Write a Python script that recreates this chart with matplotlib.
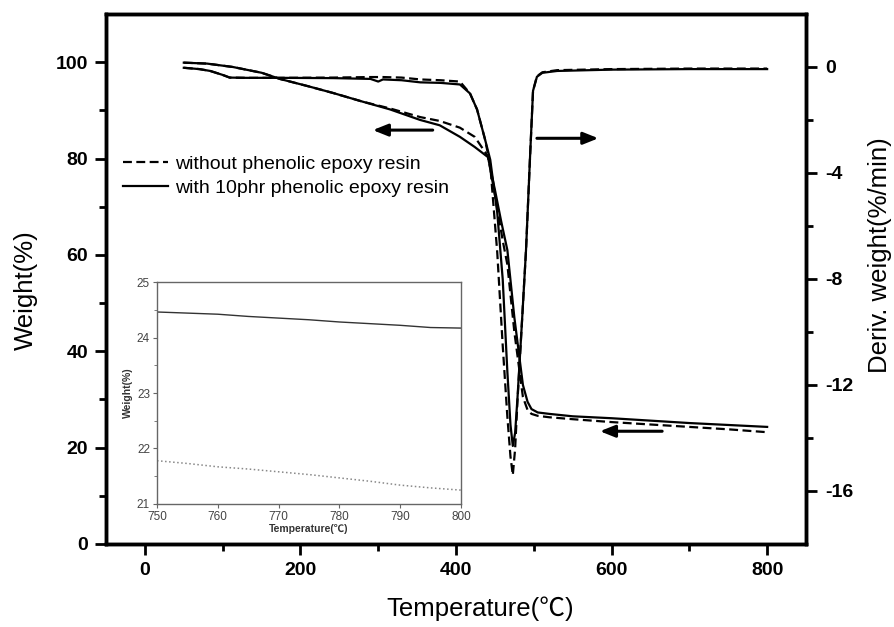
import matplotlib.pyplot as plt
from matplotlib.ticker import MultipleLocator, FixedLocator

plt.rcParams['font.family'] = ['Liberation Sans', 'Noto Sans CJK SC', 'DejaVu Sans']
plt.rcParams['axes.unicode_minus'] = False

# TG curves (left axis, weight %)
temp_tg_with = [50, 80, 113, 150, 174, 210, 242, 280, 315, 354, 379, 405, 424, 441,
                450, 458, 466, 475, 486, 492, 497, 505, 520, 550, 600, 650, 700, 750, 800]
weight_with = [99.9, 99.7, 99.0, 97.8, 96.5, 95.0, 93.6, 91.8, 90.2, 88.0, 86.9, 84.5, 82.4, 80.3,
               73.5, 67.0, 61.0, 47.0, 33.0, 29.5, 28.0, 27.3, 27.0, 26.5, 26.1, 25.6, 25.1, 24.7, 24.3]

temp_tg_without = [50, 80, 113, 150, 174, 210, 242, 280, 315, 354, 379, 405, 424, 441,
                   450, 460, 466, 475, 486, 492, 497, 505, 520, 550, 600, 650, 700, 750, 800]
weight_without = [99.9, 99.7, 99.0, 97.8, 96.5, 95.0, 93.6, 91.8, 90.4, 88.6, 87.8, 86.4, 84.5, 80.5,
                  72.5, 63.0, 58.0, 44.0, 30.5, 27.8, 27.0, 26.6, 26.3, 25.9, 25.3, 24.8, 24.3, 23.8, 23.2]

# DTG curves (right axis, %/min)
temp_dtg = [50, 70, 84, 100, 109, 130, 174, 242, 290, 300, 306, 330, 354, 380, 405, 418, 427,
            437, 444, 453, 460, 466, 470, 473, 476, 479, 485, 490, 495, 499, 504, 511, 530, 600, 700, 800]
dtg_with = [-0.03, -0.08, -0.15, -0.3, -0.4, -0.41, -0.41, -0.42, -0.45, -0.55, -0.47, -0.5, -0.58,
            -0.6, -0.66, -1.0, -1.6, -2.7, -3.5, -5.5, -8.0, -11.5, -13.5, -14.3, -13.8, -12.5, -9.5,
            -6.9, -3.5, -0.9, -0.37, -0.22, -0.15, -0.1, -0.08, -0.08]
dtg_without = [-0.03, -0.08, -0.15, -0.3, -0.4, -0.41, -0.41, -0.4, -0.38, -0.38, -0.38, -0.4, -0.47,
               -0.5, -0.55, -1.0, -1.6, -2.7, -3.7, -7.0, -10.5, -13.2, -14.7, -15.4, -14.4, -12.6, -9.5,
               -6.9, -3.5, -0.9, -0.35, -0.2, -0.12, -0.08, -0.06, -0.06]

# inset: residue between 750 and 800 C
temp_inset = [750, 755, 760, 765, 770, 775, 780, 785, 790, 795, 800]
inset_with = [24.46, 24.44, 24.42, 24.38, 24.35, 24.32, 24.28, 24.25, 24.22, 24.18, 24.17]
inset_without = [21.78, 21.73, 21.67, 21.63, 21.58, 21.53, 21.47, 21.41, 21.34, 21.29, 21.25]

label_with = 'with 10phr phenolic epoxy resin'
label_without = 'without phenolic epoxy resin'
dash = (0, (4, 2))

fig = plt.figure(figsize=(8.94, 6.27), dpi=100)
ax = fig.add_axes([0.1186, 0.1324, 0.783, 0.8453])
ax2 = ax.twinx()

ax.plot(temp_tg_with, weight_with, color='k', lw=1.6, label=label_with)
ax.plot(temp_tg_without, weight_without, color='k', ls=dash, lw=1.6, label=label_without)
ax2.plot(temp_dtg, dtg_with, color='k', lw=1.6)
ax2.plot(temp_dtg, dtg_without, color='k', ls=dash, lw=1.6)

ax.set_xlim(-50, 850)
ax.set_ylim(0, 110)
ax2.set_ylim(-18, 2)

ax.xaxis.set_major_locator(MultipleLocator(200))
ax.xaxis.set_minor_locator(MultipleLocator(100))
ax.yaxis.set_major_locator(MultipleLocator(20))
ax.yaxis.set_minor_locator(FixedLocator([10, 30, 50, 70, 90]))
ax2.yaxis.set_major_locator(MultipleLocator(4))
ax2.yaxis.set_minor_locator(FixedLocator([-2, -6, -10, -14]))

for a in (ax, ax2):
    for s in a.spines.values():
        s.set_linewidth(2.5)
ax.tick_params(which='major', direction='out', length=8, width=2, labelsize=14, pad=5)
ax.tick_params(which='minor', direction='out', length=5, width=2)
ax2.tick_params(which='major', direction='out', length=8, width=2, labelsize=14, pad=6)
ax2.tick_params(which='minor', direction='out', length=5, width=2)
for t in ax.get_xticklabels() + ax.get_yticklabels() + ax2.get_yticklabels():
    t.set_fontweight('bold')

ax.set_xlabel('Temperature(℃)', fontsize=18.5)
ax.xaxis.set_label_coords(0.534, -0.098)
ax.set_ylabel('Weight(%)', fontsize=18.5)
ax.yaxis.set_label_coords(-0.098, 0.479)
ax2.set_ylabel('Deriv. weight(%/min)', fontsize=18.5)
ax2.yaxis.set_label_coords(1.0886, 0.545)

# arrows pointing to the axis each curve belongs to
arrow = dict(arrowstyle='-|>,head_length=0.45,head_width=0.18', lw=2.2, color='k',
             mutation_scale=20, shrinkA=0, shrinkB=0)
ax.annotate('', xy=(293, 85.9), xytext=(370, 85.9), arrowprops=arrow)
ax.annotate('', xy=(583, 84.2), xytext=(504, 84.2), arrowprops=arrow)
ax.annotate('', xy=(585, 23.4), xytext=(665, 23.4), arrowprops=arrow)

h, l = ax.get_legend_handles_labels()
ax.legend(h[::-1], l[::-1], loc='upper left', bbox_to_anchor=(0.1376, 0.752),
          bbox_transform=fig.transFigure, frameon=False, fontsize=14,
          handlelength=2.3, handletextpad=0.35, labelspacing=0.3,
          borderpad=0, borderaxespad=0)

# inset
axin = fig.add_axes([0.1756, 0.1962, 0.340, 0.354])
axin.plot(temp_inset, inset_with, color='#333333', lw=1)
axin.plot(temp_inset, inset_without, color='#888888', ls=':', lw=1.1)
axin.set_xlim(750, 800)
axin.set_ylim(21, 25)
axin.xaxis.set_major_locator(MultipleLocator(10))
axin.yaxis.set_major_locator(MultipleLocator(1))
axin.yaxis.set_minor_locator(MultipleLocator(0.5))
for s in axin.spines.values():
    s.set_color('#666666')
    s.set_linewidth(1)
axin.tick_params(which='both', direction='out', color='#666666', labelcolor='#444444',
                 labelsize=8.5, pad=2)
axin.tick_params(which='major', length=3)
axin.tick_params(which='minor', length=2)
axin.set_xlabel('Temperature(℃)', fontsize=7.5, fontweight='bold', color='#333333', labelpad=1)
axin.set_ylabel('Weight(%)', fontsize=7.5, fontweight='bold', color='#333333', labelpad=3)

fig.savefig('out.png', dpi=100)
